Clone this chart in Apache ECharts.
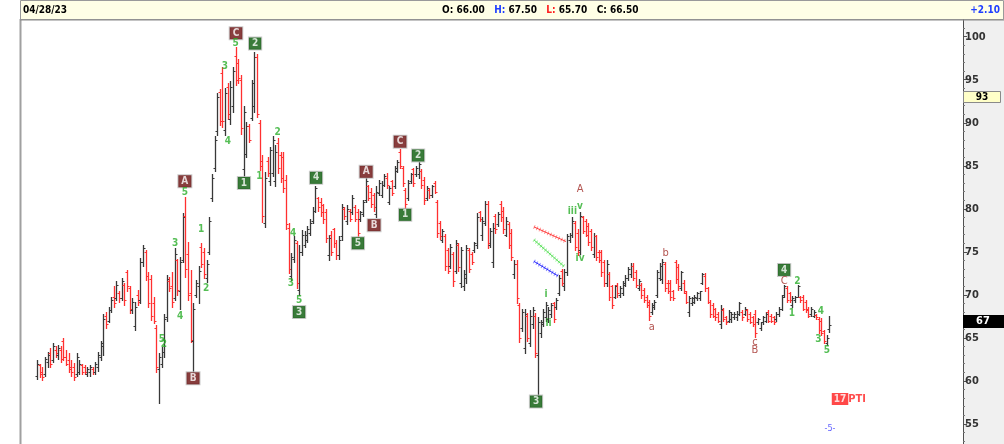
<!DOCTYPE html>
<html><head><meta charset="utf-8">
<script src="https://cdn.jsdelivr.net/npm/echarts@6/dist/echarts.min.js"></script>
<style>html,body{margin:0;padding:0;background:#fff}#c{width:1004px;height:444px}</style>
</head><body><div id="c"></div>
<script>
// ---------- DATA ----------
const opens = [60.6,61.8,61.0,60.8,62.2,63.2,62.4,63.6,63.0,63.6,
 64.6,62.8,62.4,61.6,61.6,60.8,61.0,61.8,61.6,60.8,
 61.0,61.4,61.0,61.6,62.8,64.0,67.6,67.0,68.2,69.8,
 69.6,70.2,69.6,71.2,72.6,70.8,68.2,66.4,70.0,69.4,
 73.8,75.0,72.2,71.8,69.0,66.2,61.4,62.0,63.4,67.4,
 71.6,71.0,69.6,74.0,70.4,74.0,79.2,74.8,70.2,64.6,
 70.0,71.0,75.6,75.0,72.0,75.0,81.2,84.8,89.0,93.6,
 95.8,89.2,94.2,90.4,92.0,97.8,97.0,95.0,84.6,86.4,
 89.6,90.6,92.0,97.6,90.0,85.6,78.4,85.6,83.2,84.2,
 83.2,87.6,86.2,86.0,83.4,77.8,72.2,74.2,76.0,70.6,
 75.0,75.8,76.4,77.2,78.6,79.8,81.2,80.8,80.4,79.6,
 74.6,77.0,77.6,76.0,74.6,76.8,80.0,78.6,79.8,79.6,
 80.2,79.6,78.8,79.4,81.0,82.6,82.0,81.6,79.4,81.8,
 81.6,82.8,83.6,80.8,83.2,82.6,84.4,86.6,84.8,82.2,
 81.2,83.2,84.6,84.0,84.0,84.4,83.4,81.2,82.2,81.6,
 83.0,80.8,78.4,76.4,76.8,75.2,73.4,74.8,72.8,75.8,
 71.4,71.0,72.0,75.2,74.8,75.2,75.8,79.6,77.0,78.4,
 80.6,75.8,73.8,79.2,78.2,80.6,79.8,77.0,78.2,77.2,
 72.4,73.6,68.8,66.2,63.8,67.6,64.4,66.6,67.6,63.0,
 65.6,66.6,67.4,67.2,67.8,69.0,68.6,70.2,72.8,71.0,
 72.6,76.4,77.0,78.4,77.2,75.2,79.0,78.6,78.0,77.4,
 74.8,76.8,75.0,75.0,73.8,71.4,72.4,71.0,69.8,71.2,
 70.0,70.2,71.2,72.0,72.4,73.4,72.6,70.8,71.2,70.6,
 69.8,69.2,68.0,68.6,70.0,72.0,71.8,73.6,71.4,71.4,
 70.4,73.8,73.2,70.8,71.4,70.2,68.0,69.0,69.2,69.6,
 69.6,71.4,72.2,70.8,69.2,68.8,68.4,67.8,66.6,68.2,
 67.4,67.0,67.2,67.4,67.4,67.8,68.0,67.8,68.2,67.8,
 67.4,67.8,66.8,66.2,66.8,67.0,68.0,67.6,67.4,67.2,
 67.8,68.4,70.0,70.8,70.2,68.8,69.4,69.8,69.8,69.8,
 69.2,68.4,67.8,67.6,67.7,67.2,67.0,65.8,64.4,66.0];
const highs = [62.4,62.0,61.6,62.8,63.4,63.8,64.4,64.0,64.2,64.0,
 65.0,63.6,63.2,62.4,62.1,63.2,62.4,62.0,61.8,61.6,
 61.8,61.6,62.2,63.4,64.6,67.8,68.0,68.6,69.8,71.0,
 71.6,70.4,72.0,71.4,72.9,71.0,69.6,69.2,70.6,74.3,
 75.8,75.2,72.6,72.3,69.8,66.5,63.3,63.9,67.8,72.3,
 72.1,72.6,75.4,74.2,74.4,79.5,81.4,76.1,72.9,69.0,
 71.7,73.4,76.0,75.4,74.0,79.0,84.1,88.5,93.5,93.9,
 96.5,94.0,94.6,94.8,96.5,98.8,97.4,95.5,92.0,90.1,
 89.9,95.0,98.2,98.0,90.3,86.3,84.3,86.0,87.2,88.5,
 87.4,88.2,86.6,86.6,83.9,78.4,74.9,76.8,76.3,75.8,
 77.5,77.4,78.0,78.8,80.2,82.7,81.4,81.2,80.6,80.0,
 77.0,77.4,77.8,76.4,76.8,80.6,80.2,80.4,80.0,81.6,
 80.4,80.0,79.8,81.0,83.6,82.8,82.4,81.8,82.6,83.4,
 83.2,84.0,84.2,82.6,83.4,85.0,85.7,87.0,85.0,82.4,
 83.4,84.2,84.8,85.0,85.4,84.6,83.7,82.6,82.4,82.8,
 83.2,81.0,78.6,77.6,77.1,75.5,75.9,75.0,76.4,76.0,
 75.6,72.9,75.8,75.4,75.0,76.2,79.5,79.8,79.0,80.9,
 80.9,77.8,78.3,79.4,79.6,80.9,80.2,79.0,78.5,77.6,
 74.0,74.0,69.1,68.4,68.3,67.9,68.2,68.6,67.9,67.4,
 67.1,68.4,69.2,68.6,69.0,69.2,69.6,72.3,73.0,73.0,
 77.1,77.2,79.0,78.6,77.6,79.6,79.2,78.8,78.4,77.6,
 77.2,77.0,75.2,75.2,74.0,74.0,72.6,71.2,71.2,71.4,
 71.0,71.6,72.3,73.2,73.7,73.7,72.9,71.8,71.4,70.8,
 70.0,69.4,69.0,69.4,72.9,73.7,74.2,73.8,71.7,71.7,
 70.6,74.0,73.6,72.8,71.7,70.5,69.9,69.8,70.0,70.3,
 70.5,72.5,72.5,70.9,69.4,69.0,68.5,68.0,68.8,68.5,
 67.6,68.2,68.0,68.0,68.1,69.2,68.2,68.6,68.3,68.0,
 67.6,68.2,67.3,66.9,67.5,68.0,68.2,67.8,67.6,68.0,
 68.6,70.0,71.2,71.0,70.3,69.9,69.9,71.2,69.9,70.0,
 69.4,68.6,68.6,68.2,67.8,67.4,67.3,65.9,65.3,67.5];
const lows = [60.2,60.4,60.1,60.6,61.6,61.6,62.2,62.8,62.6,62.2,
 62.4,61.8,61.0,60.6,60.1,60.6,60.8,60.8,60.8,60.6,
 60.6,60.8,60.8,61.2,62.4,63.0,66.2,66.8,68.0,68.6,
 69.4,69.2,69.4,68.8,70.5,67.9,67.9,65.9,68.8,69.0,
 73.4,71.7,68.6,67.1,66.7,61.0,57.4,61.6,62.8,67.0,
 70.4,68.6,69.4,70.0,68.4,73.8,72.1,69.4,64.5,61.0,
 69.8,69.1,73.2,72.0,71.5,74.8,80.9,84.4,88.6,89.7,
 89.5,88.6,90.4,89.8,91.2,94.4,94.6,88.7,83.7,86.0,
 87.8,90.3,91.3,90.7,84.5,78.5,77.9,83.8,82.8,83.8,
 82.7,84.2,83.1,81.9,77.7,72.5,71.7,73.8,70.8,70.0,
 74.6,75.6,76.2,77.0,78.4,79.6,79.8,79.2,78.4,76.2,
 74.0,74.6,75.6,74.2,74.2,76.4,78.8,78.2,78.6,79.4,
 78.6,76.6,78.6,79.2,80.8,81.0,80.2,79.8,79.0,81.6,
 81.4,82.6,82.4,80.6,81.6,82.4,84.3,84.7,82.6,80.1,
 81.0,83.0,82.6,83.8,83.6,82.4,80.6,81.0,81.2,81.4,
 81.8,76.7,76.5,76.2,72.9,72.5,73.1,71.0,72.5,72.8,
 70.9,70.6,71.4,72.6,73.6,75.0,75.5,78.6,76.4,78.1,
 75.4,75.6,73.2,77.2,78.0,78.6,77.2,76.8,75.4,74.0,
 72.0,69.0,64.5,65.8,63.2,64.6,64.1,66.2,62.8,58.3,
 65.1,66.4,67.0,66.8,67.4,66.8,68.4,70.0,71.2,70.6,
 72.3,76.2,76.7,75.2,74.6,74.8,77.2,76.8,75.8,75.2,
 74.4,74.0,73.8,72.2,71.0,71.0,69.4,68.5,69.6,69.8,
 69.8,70.0,71.0,71.7,72.1,71.7,70.9,70.6,69.6,69.2,
 68.6,67.1,67.8,68.4,69.7,71.7,71.4,70.4,70.2,69.4,
 69.4,71.4,70.6,70.6,70.2,69.0,67.6,68.8,69.0,69.4,
 69.4,71.3,70.5,69.0,67.4,67.4,67.1,66.8,66.2,67.0,
 66.6,66.9,66.9,67.2,67.1,67.7,67.1,67.7,67.0,66.7,
 66.4,65.1,66.6,65.9,66.6,66.9,66.8,66.8,66.6,67.0,
 67.6,68.2,69.8,69.2,69.2,68.6,69.2,69.7,69.2,68.2,
 68.0,67.4,67.6,67.4,67.2,65.6,65.3,64.4,64.2,65.7];
const closes = [62.0,60.8,60.5,62.5,63.0,62.0,64.0,63.2,63.8,62.6,
 62.8,62.0,61.4,61.0,60.4,62.8,62.0,61.0,61.0,61.4,
 61.6,61.0,62.0,63.0,64.4,67.2,66.6,68.2,69.4,69.0,
 71.2,69.6,71.6,69.4,71.0,68.4,69.2,68.6,69.2,73.8,
 75.4,72.2,69.0,67.6,67.0,61.6,62.8,63.4,67.2,71.8,
 70.8,69.2,74.8,70.6,73.8,79.0,73.0,70.0,64.8,68.4,
 71.4,72.8,73.6,72.4,73.6,78.6,83.6,88.0,93.0,90.2,
 90.2,93.4,91.0,94.2,96.0,95.0,95.2,89.4,91.2,89.6,
 88.0,94.6,97.6,91.0,85.0,79.2,83.6,84.2,86.8,88.0,
 86.6,84.8,83.6,82.4,78.2,73.0,74.4,76.4,71.4,75.0,
 77.0,77.0,77.6,78.4,79.8,82.4,80.2,79.6,78.8,76.6,
 76.6,75.0,76.0,74.6,76.4,80.2,79.2,80.0,78.8,81.2,
 78.8,77.2,79.6,80.8,83.2,81.2,80.6,80.2,82.0,83.0,
 82.8,83.8,82.8,82.4,81.8,84.8,85.4,85.0,83.0,80.6,
 83.0,84.0,83.0,84.8,85.2,82.8,81.0,82.4,81.6,82.6,
 82.0,77.2,76.8,77.4,73.4,72.8,75.6,71.6,76.0,73.2,
 75.2,72.4,75.4,73.0,73.8,76.0,79.0,78.8,78.6,80.6,
 76.0,77.4,77.8,77.6,79.4,79.0,77.6,78.6,75.8,74.4,
 73.6,69.6,65.0,68.0,67.8,65.0,67.6,68.2,63.2,66.8,
 66.8,68.0,68.8,68.2,68.8,67.2,69.4,72.0,71.4,72.6,
 76.8,77.0,78.6,75.6,75.0,79.2,77.4,77.0,76.2,75.6,
 76.8,74.4,74.0,72.6,71.4,73.6,69.8,68.8,71.0,70.2,
 70.8,71.4,72.0,73.0,73.4,72.0,71.2,71.6,70.0,69.4,
 68.8,67.6,68.8,69.2,72.6,73.4,73.8,70.8,70.4,69.8,
 69.6,71.8,71.0,72.6,70.4,69.2,69.6,69.6,69.8,70.2,
 70.4,72.4,70.8,69.2,67.8,67.6,67.4,67.0,68.4,67.2,
 66.8,68.0,67.8,67.8,67.8,69.0,67.4,68.4,67.2,66.9,
 66.6,65.6,67.2,66.8,67.4,67.8,67.0,67.0,66.8,67.8,
 68.4,69.8,71.0,69.4,69.4,69.6,69.8,71.0,69.4,68.4,
 68.2,67.6,68.4,68.0,67.4,65.9,65.6,64.6,65.0,66.5];

const lastDate = '04/28/23';
const netChange = '+2.10';
const priceLevels = [93, 67];           // levels flagged on the price axis
const majorTicks = [55, 60, 65, 70, 75, 80, 85, 90, 95, 100];

// wave labels: [bar position, price, text]
const redBoxes = [[55.8,83.2,'A'],[58.9,60.3,'B'],[75.1,100.4,'C'],[124.2,84.3,'A'],[127.2,78.1,'B'],[137.0,87.8,'C']];
const greenBoxes = [[78.1,83.0,'1'],[82.3,99.2,'2'],[98.9,68.0,'3'],[105.3,83.6,'4'],[121.1,76.0,'5'],
  [138.9,79.3,'1'],[143.8,86.2,'2'],[188.3,57.6,'3'],[281.9,72.9,'4']];
const greenMarks = [[55.8,81.9,'5'],[52.1,76.0,'3'],[54.0,67.5,'4'],[61.9,77.6,'1'],[63.8,70.8,'2'],
  [47.1,64.8,'5'],[47.9,64.3,'2'],[70.9,96.6,'3'],[72.0,87.8,'4'],[75.0,99.2,'5'],[83.9,83.8,'1'],
  [90.8,88.9,'2'],[96.7,77.1,'4'],[95.8,71.3,'3'],[98.9,69.3,'5'],[284.8,67.8,'1'],[286.9,71.6,'2'],
  [295.8,68.1,'4'],[294.8,64.8,'3'],[298.0,63.5,'5'],
  [192.1,70.0,'i'],[193.0,66.7,'ii'],[202.0,79.7,'iii'],[204.9,74.2,'iv'],[204.9,80.3,'v']];
const redMarks = [[204.9,82.3,'A'],[232.0,66.3,'a'],[237.2,74.9,'b'],[270.9,64.5,'c'],[270.9,63.6,'B'],[281.9,71.6,'C']];
const ptiBox = [[303.0,57.9,'17']];
const ptiText = [[309.4,57.9,'PTI']];
const blueMark = [[299.2,54.5,'-5-']];

// projection lines: [[bar, price],[bar, price]]
const projRed = [[187.5,77.9],[199.6,76.2]];
const projGreen = [[187.5,76.4],[198.9,73.3]];
const projBlue = [[187.5,73.9],[196.6,72.2]];

// ---------- CHART ----------
const FONT = "'Liberation Sans Narrow','Arial Narrow','DejaVu Sans Condensed','Liberation Sans',sans-serif";
const UP = '#383838', DOWN = '#ff3030';
const ohlc = opens.map((o, i) => [i, o, highs[i], lows[i], closes[i]]);
const minorTicks = [];
for (let v = 53; v <= 101; v++) if (v % 5 !== 0) minorTicks.push(v);

function renderBar(params, api) {
  const i = api.value(0), o = api.value(1), h = api.value(2), l = api.value(3), c = api.value(4);
  const pH = api.coord([i, h]), pL = api.coord([i, l]), pO = api.coord([i, o]), pC = api.coord([i, c]);
  const x = Math.round(pH[0]) + 0.5;
  const col = c >= o ? UP : DOWN;
  const st = { stroke: col, lineWidth: 1.3 };
  const tk = { stroke: col, lineWidth: 1 };
  const yo = Math.round(pO[1]) + 0.5, yc = Math.round(pC[1]) + 0.5;
  return { type: 'group', children: [
    { type: 'line', shape: { x1: x, y1: Math.round(pH[1]), x2: x, y2: Math.round(pL[1]) + 1 }, style: st },
    { type: 'line', shape: { x1: x - 2, y1: yo, x2: x, y2: yo }, style: tk },
    { type: 'line', shape: { x1: x, y1: yc, x2: x + 2, y2: yc }, style: tk }
  ]};
}

function labelSeries(arr, lab, z) {
  return {
    type: 'scatter', data: arr.map(d => ({ value: [d[0], d[1]], name: d[2] })),
    symbolSize: 1, itemStyle: { color: 'transparent' }, silent: true, clip: false, z: z || 5,
    label: Object.assign({ show: true, position: 'inside', formatter: p => p.name, fontFamily: FONT }, lab)
  };
}
function projSeries(pts, color) {
  return [
    { type: 'line', data: pts, symbol: 'none', silent: true, lineStyle: { color: color, width: 1 }, z: 3 },
    { type: 'line', data: pts, symbol: 'none', silent: true, lineStyle: { color: color, width: 4, type: [1, 2], opacity: 0.55 }, z: 3 }
  ];
}

const last = opens.length - 1;
const YMIN = 52.67, YMAX = 101.94;
const chart = echarts.init(document.getElementById('c'), null, { renderer: 'canvas' });
const baseGraphics = [
  { type: 'rect', z: -10, silent: true, shape: { x: 963, y: 20, width: 41, height: 424 }, style: { fill: '#f0f0f0' } },
  { type: 'rect', z: -10, silent: true, shape: { x: 20.5, y: 0.5, width: 983, height: 19 }, style: { fill: '#ffffe6', stroke: '#9a9a9a', lineWidth: 1 } },
  { type: 'line', z: 10, silent: true, shape: { x1: 20.5, y1: 19, x2: 20.5, y2: 444 }, style: { stroke: '#a0a0a0', lineWidth: 2 } },
  { type: 'line', z: 10, silent: true, shape: { x1: 20, y1: 20, x2: 1004, y2: 20 }, style: { stroke: '#8a8a8a', lineWidth: 1 } },
  { type: 'text', z: 10, silent: true, x: 23, y: 10, style: { text: lastDate, fill: '#000', font: "bold 10px " + FONT, textVerticalAlign: 'middle' } },
  { type: 'text', z: 10, silent: true, x: 442, y: 10, style: {
    text: 'O: ' + opens[last].toFixed(2) + '   {h|H:} ' + highs[last].toFixed(2) + '   {l|L:} ' + lows[last].toFixed(2) + '   C: ' + closes[last].toFixed(2),
    fill: '#000', font: "bold 10px " + FONT, textVerticalAlign: 'middle',
    rich: { h: { fill: '#1f3fff', font: "bold 10px " + FONT }, l: { fill: '#ff2020', font: "bold 10px " + FONT } } } },
  { type: 'text', z: 10, silent: true, x: 1000, y: 10, style: { text: netChange, fill: '#1f3fff', font: "bold 10px " + FONT, textAlign: 'right', textVerticalAlign: 'middle' } }
];
chart.setOption({
  animation: false,
  backgroundColor: '#ffffff',
  grid: { left: 20, right: 41, top: 20, bottom: 0, containLabel: false, outerBoundsMode: 'none' },
  xAxis: { type: 'value', min: -6.4, max: 349.4, show: false },
  yAxis: [{
    type: 'value', position: 'right', min: YMIN, max: YMAX,
    axisLine: { show: true, onZero: false, lineStyle: { color: '#505050', width: 1 } },
    axisTick: { show: true, inside: false, length: 4, lineStyle: { color: '#505050' }, customValues: majorTicks },
    axisLabel: { show: true, customValues: majorTicks, color: '#333', fontFamily: FONT, fontSize: 11, fontWeight: 'bold', margin: 2 },
    splitLine: { show: false }
  }, {
    type: 'value', position: 'right', offset: 0, min: YMIN, max: YMAX,
    axisLine: { show: false, onZero: false },
    axisTick: { show: true, inside: false, length: 2, lineStyle: { color: '#777' }, customValues: minorTicks },
    axisLabel: { show: false }, splitLine: { show: false }
  }],
  graphic: baseGraphics,
  series: [
    { type: 'custom', renderItem: renderBar, data: ohlc, silent: true, clip: false, z: 2,
      encode: { x: 0, y: [1, 2, 3, 4] } },
    ...projSeries(projRed, '#ff3a3a'),
    ...projSeries(projGreen, '#55e055'),
    ...projSeries(projBlue, '#2a2aff'),
    labelSeries(redBoxes, { color: '#fff', fontSize: 10, fontWeight: 'bold', backgroundColor: '#6a0d0d', borderColor: '#bdbdbd', borderWidth: 1, padding: [1, 3, 0, 3], lineHeight: 11 }, 6),
    labelSeries(greenBoxes, { color: '#fff', fontSize: 10, fontWeight: 'bold', backgroundColor: '#085a08', borderColor: '#bdbdbd', borderWidth: 1, padding: [1, 3, 0, 3], lineHeight: 11 }, 6),
    labelSeries(greenMarks, { color: '#2aae2a', fontSize: 10, fontWeight: 'bold' }, 6),
    labelSeries(redMarks, { color: '#a02a26', fontSize: 11 }, 6),
    labelSeries(ptiBox, { color: '#fff', fontSize: 10, fontWeight: 'bold', backgroundColor: '#ff1a1a', padding: [1, 2, 0, 2], lineHeight: 11 }, 6),
    labelSeries(ptiText, { color: '#ff2020', fontSize: 11, fontWeight: 'bold' }, 6),
    labelSeries(blueMark, { color: '#3a3aff', fontSize: 9 }, 6)
  ]
});

// price-level flags on the axis, positioned through the axis scale
const yA = chart.convertToPixel({ yAxisIndex: 0 }, priceLevels[0]);
const yB = chart.convertToPixel({ yAxisIndex: 0 }, priceLevels[1]);
chart.setOption({ graphic: baseGraphics.concat([
  { type: 'rect', z: 20, silent: true, shape: { x: 963.5, y: Math.round(yA) - 5.5, width: 37, height: 11 }, style: { fill: '#ffffc8', stroke: '#8a8a8a', lineWidth: 1 } },
  { type: 'text', z: 21, silent: true, x: 982, y: Math.round(yA), style: { text: String(priceLevels[0]), fill: '#000', font: "bold 10px " + FONT, textAlign: 'center', textVerticalAlign: 'middle' } },
  { type: 'rect', z: 20, silent: true, shape: { x: 963, y: Math.round(yB) - 6, width: 41, height: 13 }, style: { fill: '#000' } },
  { type: 'text', z: 21, silent: true, x: 983, y: Math.round(yB) + 0.5, style: { text: String(priceLevels[1]), fill: '#fff', font: "bold 11px " + FONT, textAlign: 'center', textVerticalAlign: 'middle' } }
]) });
</script>
</body></html>
